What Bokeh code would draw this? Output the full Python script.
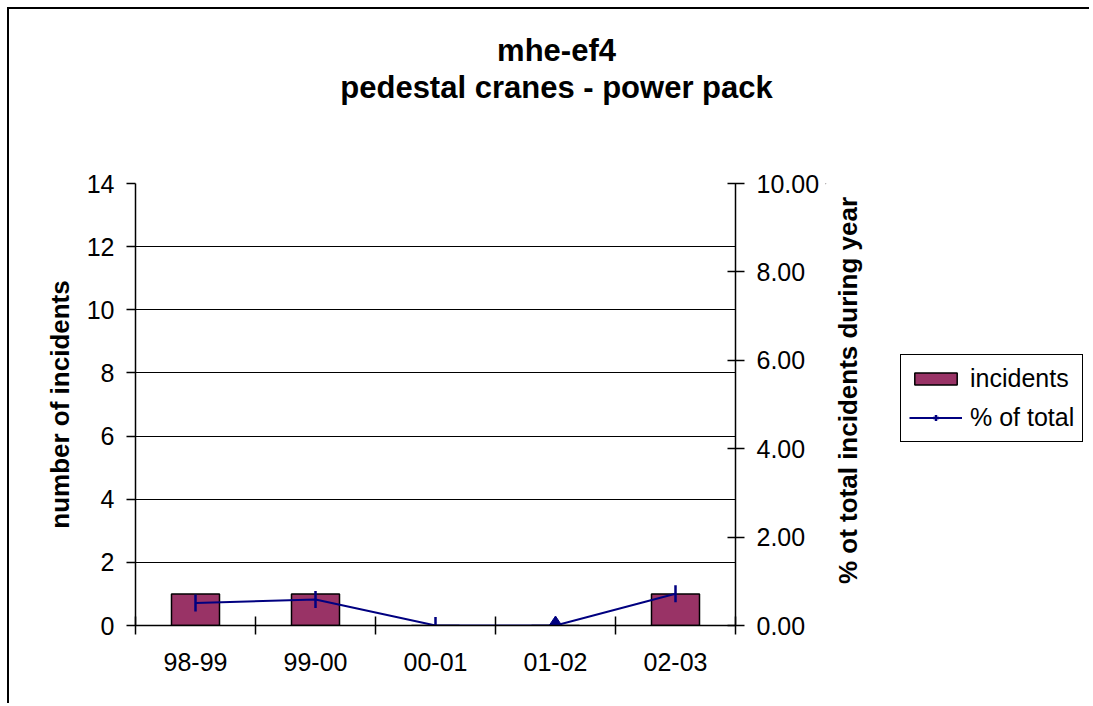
import math
from bokeh.plotting import figure
from bokeh.layouts import row
from bokeh.models import (Range1d, LinearAxis, FixedTicker, NumeralTickFormatter,
                          ColumnDataSource, Legend, LegendItem, Title, Label,
                          CDSView, IndexFilter)
from bokeh.embed import file_html
from bokeh.resources import INLINE

# ---- data ----
categories = ["98-99", "99-00", "00-01", "01-02", "02-03"]
incidents = [1, 1, 0, 0, 1]
pct_of_total = [0.51, 0.59, 0.0, 0.0, 0.72]
left_ticks = [0, 2, 4, 6, 8, 10, 12, 14]
right_ticks = [0, 2, 4, 6, 8, 10]
title_lines = ["mhe-ef4", "pedestal cranes - power pack"]
legend_labels = ["incidents", "% of total"]
right_axis_title = "% ot total incidents during year"

FONT = "Liberation Sans"
BAR_COLOR = "#993366"
LINE_COLOR = "#000080"

FW, FH = 600, 442
BL, BR, BT, BB = 126, 90, 174, 78
YMAX_L, YMAX_R = 14, 10
n = len(categories)

xs = [i + 0.5 for i in range(n)]
src = ColumnDataSource(dict(x=xs, cat=categories, inc=incidents, pct=pct_of_total))

p = figure(frame_width=FW, frame_height=FH,
           min_border_left=BL, min_border_right=BR,
           min_border_top=BT, min_border_bottom=BB,
           x_range=Range1d(0, n), y_range=Range1d(0, YMAX_L),
           output_backend="svg", toolbar_location=None, tools="")
p.extra_y_ranges = {"pct": Range1d(0, YMAX_R)}
p.outline_line_color = None
p.background_fill_color = "white"
p.border_fill_color = "white"

# grid
p.xgrid.visible = False
p.ygrid.ticker = FixedTicker(ticks=left_ticks)
p.ygrid.grid_line_color = "black"
p.ygrid.grid_line_width = 1

# x axis
xa = p.xaxis[0]
xa.ticker = FixedTicker(ticks=xs, minor_ticks=list(range(n + 1)))
xa.major_label_overrides = {x: c for x, c in zip(xs, categories)}
xa.major_tick_in = 0
xa.major_tick_out = 0
xa.minor_tick_in = 9
xa.minor_tick_out = 9
xa.minor_tick_line_color = "black"
xa.minor_tick_line_width = 1.5
xa.axis_line_color = "black"
xa.axis_line_width = 1.5
xa.major_label_standoff = 18
xa.major_label_text_font = FONT
xa.major_label_text_font_size = "25px"
xa.major_label_text_color = "black"

# left axis
ya = p.yaxis[0]
ya.ticker = FixedTicker(ticks=left_ticks)
ya.major_tick_in = 0
ya.major_tick_out = 9
ya.minor_tick_line_color = None
ya.axis_line_width = 1.5
ya.major_tick_line_width = 1.5
ya.axis_line_color = "black"
ya.major_tick_line_color = "black"
ya.major_label_standoff = 12
ya.major_label_text_font = FONT
ya.major_label_text_font_size = "25px"
ya.major_label_text_color = "black"
ya.axis_label = "number of incidents"
ya.axis_label_text_font = FONT
ya.axis_label_text_font_style = "bold"
ya.axis_label_text_font_size = "26px"
ya.axis_label_text_color = "black"
ya.axis_label_standoff = 9

# right axis
ra = LinearAxis(y_range_name="pct", ticker=FixedTicker(ticks=right_ticks),
                formatter=NumeralTickFormatter(format="0.00"))
ra.major_tick_in = 8
ra.major_tick_out = 9
ra.minor_tick_line_color = None
ra.axis_line_width = 1.5
ra.major_tick_line_width = 1.5
ra.axis_line_color = "black"
ra.major_tick_line_color = "black"
ra.major_label_standoff = 12
ra.major_label_text_font = FONT
ra.major_label_text_font_size = "25px"
ra.major_label_text_color = "black"
p.add_layout(ra, "right")

# styles
bar_style = dict(fill_color=BAR_COLOR, line_color="black", line_width=1.5)
line_style = dict(line_color=LINE_COLOR, line_width=2)
dash_style = dict(marker="dash", size=17, angle=math.pi / 2,
                  line_color=LINE_COLOR, line_width=2.5)

# bars
p.vbar(x="x", top="inc", width=0.4, bottom=0, source=src, **bar_style)

# line + markers
p.line(x="x", y="pct", source=src, y_range_name="pct", **line_style)
dash_idx = [i for i in range(n) if i != 3]
p.scatter(x="x", y="pct", source=src, y_range_name="pct",
          view=CDSView(filter=IndexFilter(dash_idx)), **dash_style)
p.scatter(x="x", y="pct", source=src, y_range_name="pct",
          view=CDSView(filter=IndexFilter([3])),
          marker="diamond", size=19,
          fill_color=LINE_COLOR, line_color=LINE_COLOR, line_width=1)

# titles: spacer nearest the frame, then the two lines
TFS = 31
p.add_layout(Title(text=" ", text_font_size="10px", standoff=66), "above")
est_w = [3.834 * TFS, 13.95 * TFS]  # approx. bold text widths
center_px = 556 - 135
p.add_layout(Title(text=title_lines[1], align="left", offset=center_px - est_w[1] / 2,
                   text_font=FONT, text_font_style="bold", text_font_size=f"{TFS}px",
                   text_color="black", standoff=0), "above")
p.add_layout(Title(text=title_lines[0], align="left", offset=center_px - est_w[0] / 2,
                   text_font=FONT, text_font_style="bold", text_font_size=f"{TFS}px",
                   text_color="black", standoff=0), "above")

# ---- side panel: right axis title + legend (frame aligned with main frame) ----
QW = 264
OFF = 100000                   # keeps the legend proxies far out of view
X0 = 9 + BL + FW + BR          # page x where the side panel starts
FRAME_BOTTOM = 9 + BT + FH     # page y of the frame bottom
q = figure(frame_width=QW, frame_height=FH,
           x_range=Range1d(X0 + OFF, X0 + QW + OFF),
           y_range=Range1d(start=FRAME_BOTTOM + OFF, end=FRAME_BOTTOM - FH + OFF),
           min_border_left=0, min_border_right=0, min_border_top=BT, min_border_bottom=BB,
           output_backend="svg", toolbar_location=None, tools="")
q.axis.visible = False
q.grid.visible = False
q.outline_line_color = None
q.background_fill_color = "white"
q.border_fill_color = "white"

q.add_layout(Label(x=847 + OFF, y=390 + OFF, text=right_axis_title, angle=math.pi / 2,
                   text_font=FONT, text_font_style="bold", text_font_size="26px",
                   text_align="center", text_baseline="middle", text_color="black"))

# legend proxies: same data and styles, only one (off-view) point shown
one = CDSView(filter=IndexFilter([0]))
lg_bar = q.vbar(x="x", top="inc", width=0.4, source=src, view=one, **bar_style)
lg_line = q.line(x="x", y="pct", source=src, view=CDSView(filter=IndexFilter([0])),
                 **line_style)
lg_mk = q.scatter(x="x", y="pct", source=src, view=CDSView(filter=IndexFilter([0])),
                  marker="cross", size=17, line_color=LINE_COLOR, line_width=2.5)

legend = Legend(items=[LegendItem(label=legend_labels[0], renderers=[lg_bar]),
                       LegendItem(label=legend_labels[1], renderers=[lg_line, lg_mk])],
                location=(900 - X0, FRAME_BOTTOM - 442))
legend.glyph_width = 53
legend.glyph_height = 15
legend.label_height = 31
legend.label_standoff = 8
legend.spacing = 8
legend.padding = 8
legend.margin = 0
legend.border_line_color = "black"
legend.border_line_alpha = 1.0
legend.border_line_width = 1.5
legend.label_text_font = FONT
legend.label_text_font_size = "25px"
legend.label_text_color = "black"
legend.background_fill_color = "white"
legend.background_fill_alpha = 1.0
q.add_layout(legend, "center")

layout = row(p, q, spacing=0,
             styles={"margin-left": "7px", "margin-top": "7px",
                     "border-top": "2px solid black", "border-left": "2px solid black"})

open("out.html", "w").write(file_html(layout, INLINE))
